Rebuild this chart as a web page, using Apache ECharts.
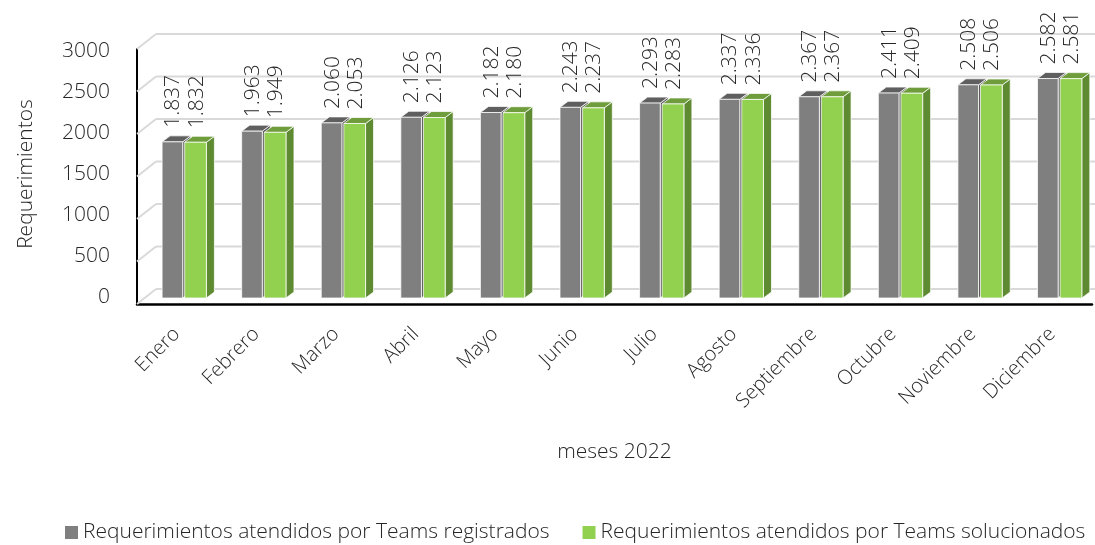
<!DOCTYPE html>
<html>
<head>
<meta charset="utf-8">
<script src="https://cdn.jsdelivr.net/npm/echarts@6/dist/echarts.min.js"></script>
<style>
  html, body { margin: 0; padding: 0; background: #fff; }
  #chart { width: 1095px; height: 545px; }
</style>
</head>
<body>
<div id="chart"></div>
<script>
'use strict';

const months = ['Enero', 'Febrero', 'Marzo', 'Abril', 'Mayo', 'Junio', 'Julio',
    'Agosto', 'Septiembre', 'Octubre', 'Noviembre', 'Diciembre'];
const registrados = [1837, 1963, 2060, 2126, 2182, 2243, 2293, 2337, 2367, 2411, 2508, 2582];
const solucionados = [1832, 1949, 2053, 2123, 2180, 2237, 2283, 2336, 2367, 2409, 2506, 2581];
const yTicks = [0, 500, 1000, 1500, 2000, 2500, 3000];

const FONT = '"Open Sans", Lato, sans-serif';
const WALL_DX = 19, WALL_DY = -15;   // back wall offset
const BAR_DX = 7.6, BAR_DY = -6;     // bars sit a bit behind the front plane
const DEPTH_X = 8, DEPTH_Y = -6;     // bar thickness

const fmt = v => String(v).replace(/\B(?=(\d{3})+(?!\d))/g, '.');

function wallItem(params, api) {
    const cs = params.coordSys;
    const y = api.coord([0, api.value(1)])[1];
    const style = { stroke: '#d9d9d9', lineWidth: 2 };
    return {
        type: 'group',
        children: [
            { type: 'line', shape: { x1: cs.x, y1: y, x2: cs.x + WALL_DX, y2: y + WALL_DY }, style },
            { type: 'line', shape: { x1: cs.x + WALL_DX, y1: y + WALL_DY, x2: cs.x + cs.width + WALL_DX, y2: y + WALL_DY }, style },
        ],
    };
}

function barRenderer(left, right, colors) {
    return function(params, api) {
        const base = api.coord([api.value(0), 0]);
        const top = api.coord([api.value(0), api.value(1)]);
        const cx = base[0] + BAR_DX;
        const x0 = cx + left, x1 = cx + right;
        const y0 = base[1] + BAR_DY, y1 = top[1] + BAR_DY;
        const edge = { stroke: 'rgba(255,255,255,0.75)', lineWidth: 1 };
        return {
            type: 'group',
            children: [
                { type: 'polygon', shape: { points: [[x1, y1], [x1 + DEPTH_X, y1 + DEPTH_Y], [x1 + DEPTH_X, y0 + DEPTH_Y], [x1, y0]] },
                    style: Object.assign({ fill: colors.side }, edge) },
                { type: 'polygon', shape: { points: [[x0, y1], [x0 + DEPTH_X, y1 + DEPTH_Y], [x1 + DEPTH_X, y1 + DEPTH_Y], [x1, y1]] },
                    style: Object.assign({ fill: colors.top }, edge) },
                { type: 'rect', shape: { x: x0, y: y1, width: x1 - x0, height: y0 - y1 },
                    style: Object.assign({ fill: colors.front }, edge) },
                { type: 'text', x: (x0 + x1) / 2 + 1, y: y1 - 14, rotation: Math.PI / 2,
                    style: { text: fmt(api.value(1)), x: 0, y: 0, align: 'left', verticalAlign: 'middle',
                        fill: '#262626', fontSize: 21, fontWeight: 300, fontFamily: FONT } },
            ],
        };
    };
}

const chart = echarts.init(document.getElementById('chart'), null, { renderer: 'canvas' });
chart.setOption({
    animation: false,
    textStyle: { fontFamily: FONT, fontWeight: 300 },
    legend: {
        left: 60, top: 517,
        icon: 'rect', itemWidth: 13, itemHeight: 13, itemGap: 33,
        textStyle: { fontSize: 21, color: '#262626', fontWeight: 300, fontFamily: FONT },
        data: ['Requerimientos atendidos por Teams registrados', 'Requerimientos atendidos por Teams solucionados'],
    },
    grid: [
        { left: 137, top: 49, width: 955, height: 255 },
        { left: 137, top: 51, width: 955, height: 246 },
    ],
    xAxis: [
        {
            gridIndex: 0, type: 'category', data: months,
            axisLine: { lineStyle: { color: '#000', width: 2.5 } },
            axisTick: { show: false },
            axisLabel: { rotate: 45, margin: 27, fontSize: 20, color: '#262626', fontWeight: 300, fontFamily: FONT },
            name: 'meses 2022', nameLocation: 'middle', nameGap: 138,
            nameTextStyle: { fontSize: 21, color: '#262626', fontWeight: 300, fontFamily: FONT },
        },
        { gridIndex: 1, type: 'category', data: months, show: false },
    ],
    yAxis: [
        {
            gridIndex: 0, type: 'value', min: 0, max: 3000, interval: 500,
            axisLine: { show: true, lineStyle: { color: '#000', width: 2 } },
            axisTick: { show: false }, axisLabel: { show: false }, splitLine: { show: false },
        },
        {
            gridIndex: 1, type: 'value', min: 0, max: 3000, interval: 500,
            axisLine: { show: false }, axisTick: { show: false }, splitLine: { show: false },
            axisLabel: { margin: 27, fontSize: 21, color: '#262626', fontWeight: 300, fontFamily: FONT,
                formatter: v => String(v) },
            name: 'Requerimientos', nameLocation: 'middle', nameGap: 100, nameRotate: 90,
            nameTextStyle: { fontSize: 21, color: '#262626', fontWeight: 300, fontFamily: FONT },
        },
    ],
    series: [
        {
            type: 'custom', name: 'wall', xAxisIndex: 0, yAxisIndex: 0, z: 1, silent: true,
            renderItem: wallItem, data: yTicks.map(v => [0, v]),
        },
        {
            type: 'custom', name: 'Requerimientos atendidos por Teams registrados',
            xAxisIndex: 0, yAxisIndex: 0, z: 2, clip: false,
            itemStyle: { color: '#7f7f7f' },
            renderItem: barRenderer(-22.3, -1.7, { front: '#7f7f7f', side: '#5a5a5a', top: '#5f5f5f' }),
            data: registrados.map((v, i) => [i, v]),
        },
        {
            type: 'custom', name: 'Requerimientos atendidos por Teams solucionados',
            xAxisIndex: 0, yAxisIndex: 0, z: 3, clip: false,
            itemStyle: { color: '#92d050' },
            renderItem: barRenderer(0.3, 22, { front: '#92d050', side: '#5e8a32', top: '#6f9d3c' }),
            data: solucionados.map((v, i) => [i, v]),
        },
    ],
});
</script>
</body>
</html>
